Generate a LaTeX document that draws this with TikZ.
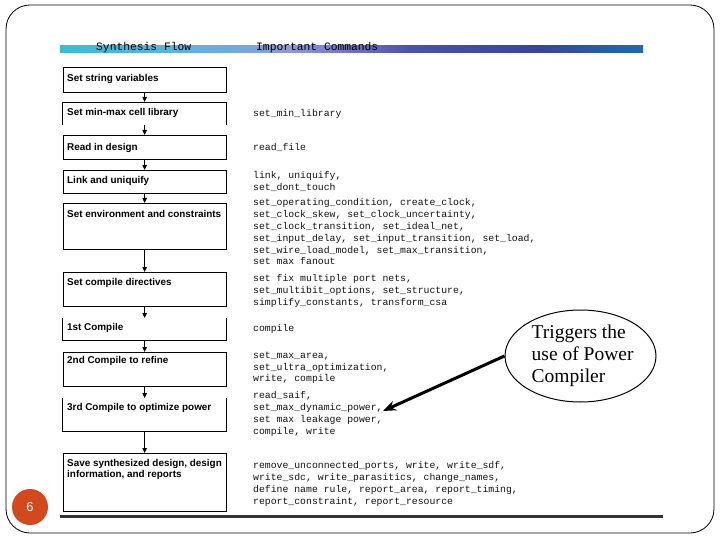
\documentclass[tikz,border=0pt]{standalone}
\usepackage{fontspec}
\setmainfont{Liberation Sans}
\newfontfamily\monof{Liberation Mono}
\newfontfamily\serf{Liberation Serif}
\usetikzlibrary{shapes.geometric,arrows.meta}
\definecolor{gA}{HTML}{36BFCF}
\definecolor{gB}{HTML}{66B0DC}
\definecolor{gC}{HTML}{8E9CD0}
\definecolor{gD}{HTML}{4C52A6}
\definecolor{gE}{HTML}{3A4496}
\definecolor{gF}{HTML}{1F6CA8}
\definecolor{badge}{HTML}{D2491E}
\definecolor{cmdc}{HTML}{111111}
\tikzset{
  box/.style={draw, line width=0.8pt, inner sep=0pt, anchor=north west, minimum width=163.5pt},
  openbox/.style={box, draw=none},
  boxtxt/.style={anchor=west, inner sep=0pt, font=\bfseries\fontsize{9.9}{11}\selectfont},
  cmd/.style={anchor=north west, inner sep=0pt, align=left, text=cmdc, font=\monof\fontsize{9.8}{11.8}\selectfont},
  flow/.style={line width=0.8pt, -{Triangle[width=4.5pt,length=5pt]}},
  hdr/.style={anchor=west, inner sep=0pt, font=\monof\fontsize{11.3}{13}\selectfont}
}
\begin{document}
\begin{tikzpicture}[x=1pt,y=-1pt]
\useasboundingbox (0,0) rectangle (720,540);
% frame
\draw[line width=0.8pt, rounded corners=24pt] (6,5) rectangle (714,533);
% header bar
\shade[left color=gA, right color=gB] (60,46) rectangle (200,52.5);
\shade[left color=gB, right color=gC] (199.5,46) rectangle (290,52.5);
\shade[left color=gC, right color=gD] (289.5,46) rectangle (410,52.5);
\shade[left color=gD, right color=gE] (409.5,46) rectangle (540,52.5);
\shade[left color=gE, right color=gF] (539.5,46) rectangle (643,52.5);
\node[hdr] (h1) at (96,47.5) {Synthesis Flow};
\node[hdr] (h2) at (256,47.5) {Important Commands};
% boxes
\node[box, minimum height=25pt] (b1) at (62.5,67) {};
\node[openbox, minimum height=22pt] (b2) at (62.5,102) {};
\node[box, minimum height=24pt] (b3) at (62.5,135) {};
\node[box, minimum height=23pt] (b4) at (62.5,170) {};
\node[box, minimum height=46pt] (b5) at (62.5,203) {};
\node[box, minimum height=34pt] (b6) at (62.5,272) {};
\node[openbox, minimum height=22pt] (b7) at (62.5,318) {};
\node[box, minimum height=34pt] (b8) at (62.5,352) {};
\node[openbox, minimum height=33pt] (b9) at (62.5,398) {};
\node[box, minimum height=58pt] (b10) at (62.5,453) {};
\draw[line width=0.8pt] (b2.south west) -- (b2.north west) -- (b2.north east) -- (b2.south east);
\draw[line width=0.8pt] (b7.north west) -- (b7.south west) -- (b7.south east) -- (b7.north east);
\draw[line width=0.8pt] (b9.north west) -- (b9.south west) -- (b9.south east) -- (b9.north east);
% box texts
\node[boxtxt] (t1) at (67,78.5) {Set string variables};
\node[boxtxt] (t2) at (67,112.5) {Set min-max cell library};
\node[boxtxt] (t3) at (67,147.5) {Read in design};
\node[boxtxt] (t4) at (67,180.5) {Link and uniquify};
\node[boxtxt] (t5) at (67,213.5) {Set environment and constraints};
\node[boxtxt] (t6) at (67,282.5) {Set compile directives};
\node[boxtxt] (t7) at (67,328) {1st Compile};
\node[boxtxt] (t8) at (67,360.5) {2nd Compile to refine};
\node[boxtxt] (t9) at (67,407.5) {3rd Compile to optimize power};
\node[boxtxt, anchor=north west, align=left] (t10) at (67,459.5) {Save synthesized design, design\\information, and reports};
% flow arrows
\draw[flow] (b1.south) -- (b2.north);
\draw[flow] (b2.south) -- (b3.north);
\draw[flow] (b3.south) -- (b4.north);
\draw[flow] (b4.south) -- (b5.north);
\draw[flow] (b5.south) -- (b6.north);
\draw[flow] (b6.south) -- (b7.north);
\draw[flow] (b7.south) -- (b8.north);
\draw[flow] (b8.south) -- (b9.north);
\draw[flow] (b9.south) -- (b10.north);
% commands
\node[cmd] (c2) at (253,109.5) {set\_min\_library};
\node[cmd] (c3) at (253,143.5) {read\_file};
\node[cmd] (c4) at (253,171.5) {link, uniquify,\\set\_dont\_touch};
\node[cmd] (c5) at (253,198.5) {set\_operating\_condition, create\_clock,\\set\_clock\_skew, set\_clock\_uncertainty,\\set\_clock\_transition, set\_ideal\_net,\\set\_input\_delay, set\_input\_transition, set\_load,\\set\_wire\_load\_model, set\_max\_transition,\\set max fanout};
\node[cmd] (c6) at (253,274.5) {set fix multiple port nets,\\set\_multibit\_options, set\_structure,\\simplify\_constants, transform\_csa};
\node[cmd] (c7) at (253,324.5) {compile};
\node[cmd] (c8) at (253,351.5) {set\_max\_area,\\set\_ultra\_optimization,\\write, compile};
\node[cmd] (c9) at (253,391.5) {read\_saif,\\set\_max\_dynamic\_power,\\set max leakage power,\\compile, write};
\node[cmd] (c10) at (253,461.5) {remove\_unconnected\_ports, write, write\_sdf,\\write\_sdc, write\_parasitics, change\_names,\\define name rule, report\_area, report\_timing,\\report\_constraint, report\_resource};
% callout
\node[ellipse, draw, line width=1pt, minimum width=151pt, minimum height=92pt, inner sep=0pt] (call) at (580.5,356) {};
\node[anchor=west, inner sep=0pt, align=left, font=\serf\fontsize{19.5}{22}\selectfont] (ct) at (531.5,356) {Triggers the\\use of Power\\Compiler};
\coordinate (tip) at (383,411);
\draw[line width=3pt, -{Stealth[length=13pt,width=10pt]}] (call.west) -- (tip);
% bottom rule
\draw[line width=3pt, color=black!80] (60,516) -- (663,516);
% page badge
\node[circle, fill=badge, minimum size=36pt, inner sep=0pt, text=white, font=\fontsize{13}{15}\selectfont] (pg) at (30,507) {6};
\end{tikzpicture}
\end{document}
